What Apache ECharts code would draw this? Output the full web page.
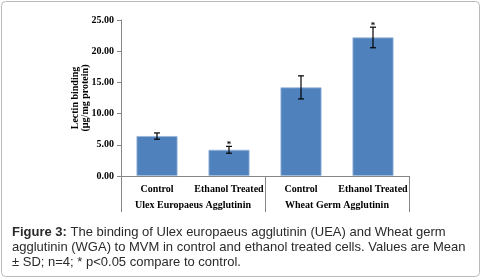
<!DOCTYPE html>
<html>
<head>
<meta charset="utf-8">
<script src="https://cdn.jsdelivr.net/npm/echarts@6/dist/echarts.min.js"></script>
<style>
  html, body { margin: 0; padding: 0; background: #fff; }
  #chart { width: 482px; height: 279px; }
</style>
</head>
<body>
<div id="chart"></div>
<script>
const BAR = "#4F81BD";
const AXIS = "#868686";
const SERIF = "'Liberation Serif', 'Times New Roman', serif";
const SANS = "'Liberation Sans', Arial, sans-serif";

const categories = ["Control", "Ethanol Treated", "Control", "Ethanol Treated"];
const groups = ["Ulex Europaeus Agglutinin", "Wheat Germ Agglutinin"];
const means = [6.4, 4.2, 14.2, 22.2];
const sds = [0.5, 0.55, 1.85, 1.65];
const significant = [false, true, false, true];
const captionLines = [
  "The binding of Ulex europaeus agglutinin (UEA) and Wheat germ",
  "agglutinin (WGA) to MVM in control and ethanol treated cells. Values are Mean",
  "± SD; n=4; * p<0.05 compare to control.",
];

const chart = echarts.init(document.getElementById("chart"), null, { renderer: "canvas" });

const errorData = means.map((m, i) => [i, m - sds[i], m + sds[i], significant[i] ? 1 : 0]);

chart.setOption({
  animation: false,
  grid: { left: 121, right: 73, top: 20, bottom: 103 },
  xAxis: [
    {
      type: "category",
      data: categories,
      position: "bottom",
      axisLine: { lineStyle: { color: AXIS } },
      axisTick: { show: false },
      axisLabel: { color: "#000", fontFamily: SERIF, fontWeight: "bold", fontSize: 10, margin: 8, interval: 0 },
    },
    {
      type: "category",
      data: groups,
      position: "bottom",
      axisLine: { show: false },
      axisTick: { show: true, length: 36, interval: 0, lineStyle: { color: AXIS } },
      axisLabel: { color: "#000", fontFamily: SERIF, fontWeight: "bold", fontSize: 10, margin: 24, interval: 0 },
    },
  ],
  yAxis: {
    type: "value",
    min: 0,
    max: 25,
    interval: 5,
    name: "Lectin binding\n(µg/mg protein)",
    nameLocation: "middle",
    nameGap: 31,
    nameMoveOverlap: false,
    nameTextStyle: { color: "#000", fontFamily: SERIF, fontWeight: "bold", fontSize: 10, lineHeight: 10 },
    axisLine: { show: true, lineStyle: { color: AXIS } },
    axisTick: { show: true, length: 4, lineStyle: { color: AXIS } },
    splitLine: { show: false },
    axisLabel: {
      color: "#000", fontFamily: SERIF, fontWeight: "bold", fontSize: 10, margin: 7,
      formatter: (v) => v.toFixed(2),
    },
  },
  series: [
    {
      type: "bar",
      data: means,
      barWidth: "57%",
      itemStyle: { color: BAR, borderColor: "#9DB7DA", borderWidth: 0.8 },
    },
    {
      type: "custom",
      data: errorData,
      z: 10,
      renderItem: (params, api) => {
        const x = api.coord([api.value(0), 0])[0];
        const lo = api.coord([api.value(0), api.value(1)])[1];
        const hi = api.coord([api.value(0), api.value(2)])[1];
        const cap = 3;
        const style = { stroke: "#000", lineWidth: 1.2 };
        const children = [
          { type: "line", shape: { x1: x, y1: lo, x2: x, y2: hi }, style },
          { type: "line", shape: { x1: x - cap, y1: hi, x2: x + cap, y2: hi }, style },
          { type: "line", shape: { x1: x - cap, y1: lo, x2: x + cap, y2: lo }, style },
        ];
        if (api.value(3)) {
          children.push({
            type: "text",
            style: { text: "*", x: x, y: hi + 3, align: "center", verticalAlign: "bottom",
              font: "bold 9px " + SERIF, fill: "#000" },
          });
        }
        return { type: "group", children };
      },
    },
  ],
  graphic: [
    {
      type: "rect",
      shape: { x: 1.5, y: 1.5, width: 478, height: 275, r: 4 },
      style: { fill: "none", stroke: "#b9b9b9", lineWidth: 1 },
      z: -1,
    },
    {
      type: "text",
      left: 12,
      top: 225,
      style: {
        text: "{b|Figure 3:} " + captionLines[0] + "\n" + captionLines[1] + "\n" + captionLines[2],
        font: "13px " + SANS,
        fill: "#2a2a2a",
        lineHeight: 15,
        rich: {
          b: { fontWeight: "bold", fontSize: 13, fontFamily: SANS, fill: "#2a2a2a", lineHeight: 15 },
        },
      },
    },
  ],
});
</script>
</body>
</html>
